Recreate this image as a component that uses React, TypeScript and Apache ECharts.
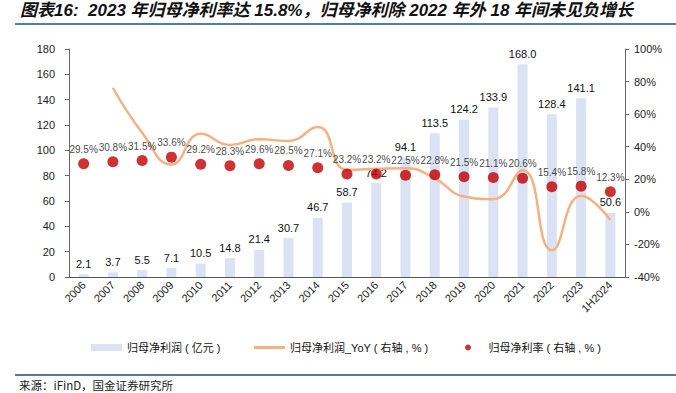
import React, { useEffect, useRef } from "react";
import * as echarts from "echarts";

const categories = ["2006","2007","2008","2009","2010","2011","2012","2013","2014","2015","2016","2017","2018","2019","2020","2021","2022","2023","1H2024"];
const profit = [2.1,3.7,5.5,7.1,10.5,14.8,21.4,30.7,46.7,58.7,74.2,94.1,113.5,124.2,133.9,168.0,128.4,141.1,50.6];
const profitYoY: (number | null)[] = [null,76.2,48.6,29.1,47.9,41.0,44.6,43.5,52.1,25.7,26.4,26.8,20.6,9.4,7.8,25.5,-23.6,9.9,-5.0];
const netMargin = [29.5,30.8,31.5,33.6,29.2,28.3,29.6,28.5,27.1,23.2,23.2,22.5,22.8,21.5,21.1,20.6,15.4,15.8,12.3];
const leftTicks = [0, 180, 20];
const rightTicks = [-40, 100, 20];

const title = "图表16:  2023 年归母净利率达 15.8%，归母净利除 2022 年外 18 年间未见负增长";
const source = "来源：iFinD，国金证券研究所";
const nameBar = "归母净利润 ( 亿元 )";
const nameLine = "归母净利润_YoY ( 右轴 , % )";
const nameDot = "归母净利率 ( 右轴 , % )";

export default function App() {
  const ref = useRef<HTMLDivElement>(null);
  useEffect(() => {
    const chart = echarts.init(ref.current!, null, { renderer: "svg" });
    const font = "Liberation Sans, Noto Sans CJK SC, sans-serif";
    const axisLine = { show: true, lineStyle: { color: "#666", width: 1 } };
    const legendText = { fontSize: 11, color: "#111" };
    chart.setOption({
      animation: false,
      textStyle: { fontFamily: font },
      grid: { left: 69, right: 51, top: 49, bottom: 116, containLabel: false },
      graphic: [
        { type: "text", left: 20, top: 2, style: { text: title, fill: "#111", font: "italic bold 17px Liberation Sans, Noto Sans CJK SC, sans-serif" } },
        { type: "line", shape: { x1: 15, y1: 24, x2: 676, y2: 24 }, style: { stroke: "#4f7fa3", lineWidth: 2 } },
        { type: "line", shape: { x1: 15, y1: 375, x2: 676, y2: 375 }, style: { stroke: "#1f4e79", lineWidth: 1.5 } },
        { type: "text", left: 19, top: 379, style: { text: source, fontSize: 11.5, lineHeight: 12, fill: "#222", fontFamily: "Noto Sans CJK SC, sans-serif" } },
      ],
      legend: [
        { left: 86, top: 337, itemWidth: 31, itemHeight: 7, itemGap: 5, icon: "rect", data: [nameBar], textStyle: legendText },
        { left: 249, top: 337, itemWidth: 31, itemHeight: 3, icon: "rect", data: [nameLine], textStyle: legendText },
        { left: 460, top: 337, itemWidth: 31, itemHeight: 6, icon: "circle", data: [nameDot], textStyle: legendText },
      ],
      xAxis: {
        type: "category",
        data: categories,
        axisLine: { show: true, lineStyle: { color: "#555" } },
        axisTick: { show: false },
        axisLabel: { rotate: 45, interval: 0, fontSize: 11, color: "#222", margin: 6 },
      },
      yAxis: [
        {
          type: "value", min: leftTicks[0], max: leftTicks[1], interval: leftTicks[2],
          axisLine, axisTick: { show: true, length: 4, lineStyle: { color: "#666" } },
          splitLine: { show: false },
          axisLabel: { fontSize: 11, color: "#222", margin: 14 },
        },
        {
          type: "value", position: "right", min: rightTicks[0], max: rightTicks[1], interval: rightTicks[2],
          axisLine, axisTick: { show: true, length: 4, lineStyle: { color: "#666" } },
          splitLine: { show: false },
          axisLabel: { fontSize: 11, color: "#222", margin: 9, formatter: "{value}%" },
        },
      ],
      series: [
        {
          name: nameBar, type: "bar", data: profit, barWidth: 10,
          itemStyle: { color: "#dae2f3" },
          label: { show: true, position: "top", fontSize: 11, color: "#111", distance: 5, formatter: (p: any) => p.value.toFixed(1) },
        },
        {
          name: nameLine, type: "line", yAxisIndex: 1, data: profitYoY, smooth: 0.5,
          symbol: "none", lineStyle: { color: "#f4b183", width: 2.5 }, itemStyle: { color: "#f4b183" },
          connectNulls: false, z: 3,
        },
        {
          name: nameDot, type: "scatter", yAxisIndex: 1, data: netMargin, symbolSize: 11,
          itemStyle: { color: "#c00000" }, z: 4,
          label: { show: true, position: "top", fontSize: 10, color: "#111", distance: 4, formatter: (p: any) => p.value.toFixed(1) + "%" },
        },
      ],
    });
    return () => chart.dispose();
  }, []);
  return <div ref={ref} style={{ position: "fixed", left: 0, top: 0, width: 676, height: 393, background: "#fff" }} />;
}
